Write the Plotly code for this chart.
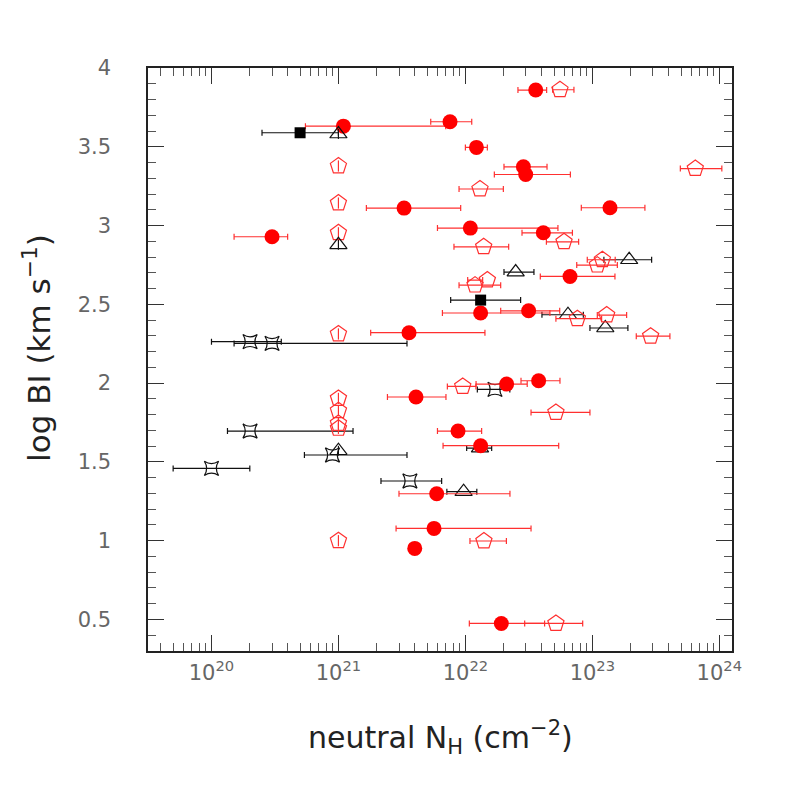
import plotly.graph_objects as go

# ---------------- data (log10 N_H, error-bar ends in log10, log BI) ----------------
# red filled circles
circ_nh = [22.554, 21.879, 21.039, 22.087, 22.457, 22.475, 21.517, 23.139, 20.477, 22.039,
           22.614, 22.824, 22.498, 22.120, 21.556, 22.325, 22.577, 21.611, 21.942, 22.120,
           21.774, 21.753, 21.601, 22.283]
circ_lo = [22.414, 21.727, 20.740, 22.000, 22.304, 22.228, 21.220, 22.913, 20.178, 21.780,
           22.446, 22.590, 22.278, 21.819, 21.254, 22.084, 22.438, 21.386, 21.780, 21.824,
           21.477, 21.454, 21.601, 22.031]
circ_hi = [22.640, 22.050, 21.845, 22.173, 22.643, 22.827, 21.963, 23.414, 20.600, 22.729,
           22.843, 23.178, 22.743, 22.666, 22.154, 22.487, 22.745, 21.847, 22.128, 22.735,
           22.351, 22.517, 21.601, 22.624]
circ_bi = [3.860, 3.659, 3.631, 3.496, 3.373, 3.324, 3.111, 3.113, 2.929, 2.984,
           2.954, 2.677, 2.459, 2.445, 2.320, 1.994, 2.015, 1.912, 1.696, 1.603,
           1.298, 1.078, 0.951, 0.475]

# red open pentagons with error bars
pent_nh = [22.745, 22.115, 23.811, 22.144, 22.777, 23.079, 23.039, 22.173, 22.076, 22.882,
           23.113, 23.459, 21.979, 22.713, 22.146, 22.713]
pent_lo = [22.687, 21.950, 23.693, 21.910, 22.638, 22.960, 22.877, 22.018, 21.950, 22.713,
           23.039, 23.346, 21.858, 22.517, 22.036, 22.467]
pent_hi = [22.855, 22.299, 24.020, 22.341, 22.892, 23.180, 23.197, 22.136, 22.278, 23.073,
           23.270, 23.611, 22.083, 22.981, 22.323, 22.924]
pent_bi = [3.862, 3.232, 3.362, 2.865, 2.897, 2.783, 2.749, 2.654, 2.622, 2.409,
           2.432, 2.298, 1.979, 1.814, 0.998, 0.475]

# red open pentagons at N_H = 1e21 (limits)
plim_nh = [21.0, 21.0, 21.0, 21.0, 21.0, 21.0, 21.0, 21.0, 21.0]
plim_bi = [3.378, 3.143, 2.954, 2.312, 1.903, 1.825, 1.744, 1.713, 1.0]

# black open triangles with error bars
tri_nh = [22.396, 23.290, 22.808, 23.102, 22.115, 21.986]
tri_lo = [22.304, 23.091, 22.603, 22.981, 22.010, 21.854]
tri_hi = [22.540, 23.467, 22.929, 23.280, 22.207, 22.090]
tri_bi = [2.705, 2.783, 2.434, 2.350, 1.588, 1.311]

# black open triangles at N_H = 1e21 (limits)
tlim_nh = [21.0, 21.0, 21.0]
tlim_bi = [3.581, 2.878, 1.571]

# black filled squares
sq_nh = [20.698, 22.120]
sq_lo = [20.398, 21.884]
sq_hi = [21.000, 22.435]
sq_bi = [3.589, 2.527]

# black four-point stars
st_nh = [20.304, 20.477, 20.304, 20.953, 20.000, 21.563, 22.233]
st_lo = [20.000, 20.178, 20.126, 20.732, 19.698, 21.335, 22.094]
st_hi = [20.550, 21.540, 21.115, 21.540, 20.302, 21.813, 22.350]
st_bi = [2.263, 2.252, 1.696, 1.544, 1.459, 1.379, 1.960]

x_tick_vals = [20, 21, 22, 23, 24]
x_tick_text = ["10<sup>20</sup>", "10<sup>21</sup>", "10<sup>22</sup>", "10<sup>23</sup>", "10<sup>24</sup>"]
y_tick_vals = [0.5, 1.0, 1.5, 2.0, 2.5, 3.0, 3.5, 4.0]
y_tick_text = ["0.5", "1", "1.5", "2", "2.5", "3", "3.5", "4"]

RED = "#ff0000"
RED_ERR = "#ff3030"
BLACK = "#111111"


def lin(vals):
    return [10.0 ** v for v in vals]


def err(x, lo, hi, color):
    X = lin(x)
    return dict(type="data", symmetric=False,
                array=[10.0 ** h - xv for h, xv in zip(hi, X)],
                arrayminus=[xv - 10.0 ** l for l, xv in zip(lo, X)],
                color=color, thickness=1.2, width=3)


fig = go.Figure()

# error-bar series
fig.add_trace(go.Scatter(x=lin(st_nh), y=st_bi, mode="markers",
                         error_x=err(st_nh, st_lo, st_hi, BLACK),
                         marker=dict(symbol="star-square-open", size=13, color=BLACK,
                                     line=dict(color=BLACK, width=1.2))))
fig.add_trace(go.Scatter(x=lin(tri_nh), y=tri_bi, mode="markers",
                         error_x=err(tri_nh, tri_lo, tri_hi, BLACK),
                         marker=dict(symbol="triangle-up-open", size=15, color=BLACK,
                                     line=dict(color=BLACK, width=1.2))))
fig.add_trace(go.Scatter(x=lin(pent_nh), y=pent_bi, mode="markers",
                         error_x=err(pent_nh, pent_lo, pent_hi, RED_ERR),
                         marker=dict(symbol="pentagon-open", size=17, color=RED_ERR,
                                     line=dict(color=RED_ERR, width=1.2))))
fig.add_trace(go.Scatter(x=lin(circ_nh), y=circ_bi, mode="markers",
                         error_x=err(circ_nh, circ_lo, circ_hi, RED_ERR),
                         marker=dict(symbol="circle", size=15, color=RED,
                                     line=dict(width=0))))
fig.add_trace(go.Scatter(x=lin(sq_nh), y=sq_bi, mode="markers",
                         error_x=err(sq_nh, sq_lo, sq_hi, BLACK),
                         marker=dict(symbol="square", size=11, color="#000000",
                                     line=dict(width=0))))

# limits at 1e21 (marker with an inner vertical stroke)
fig.add_trace(go.Scatter(x=lin(plim_nh), y=plim_bi, mode="markers",
                         marker=dict(symbol="pentagon-open", size=17, color=RED_ERR,
                                     line=dict(color=RED_ERR, width=1.2))))
fig.add_trace(go.Scatter(x=lin(plim_nh), y=plim_bi, mode="markers",
                         marker=dict(symbol="line-ns-open", size=8, color=RED_ERR,
                                     line=dict(color=RED_ERR, width=1.2))))
fig.add_trace(go.Scatter(x=lin(tlim_nh), y=tlim_bi, mode="markers",
                         marker=dict(symbol="triangle-up-open", size=15, color=BLACK,
                                     line=dict(color=BLACK, width=1.2))))
fig.add_trace(go.Scatter(x=lin(tlim_nh), y=tlim_bi, mode="markers",
                         marker=dict(symbol="line-ns-open", size=7, color=BLACK,
                                     line=dict(color=BLACK, width=1.2))))

FONT = "DejaVu Sans"
axis_common = dict(showgrid=False, zeroline=False, showline=True, linecolor="#222222",
                   linewidth=1.5, mirror="allticks", ticks="inside", ticklen=16,
                   tickwidth=1.2, tickcolor="#333333",
                   tickfont=dict(family=FONT, size=21, color="#666666"))

fig.update_xaxes(type="log", range=[19.5, 24.1],
                 tickvals=[10.0 ** v for v in x_tick_vals], ticktext=x_tick_text,
                 minor=dict(ticks="inside", ticklen=8, tickwidth=1.2, tickcolor="#555555",
                            dtick="D1", showgrid=False),
                 ticklabelstandoff=2, **axis_common)
fig.update_yaxes(range=[0.3, 4.0], tickvals=y_tick_vals, ticktext=y_tick_text,
                 minor=dict(ticks="inside", ticklen=8, tickwidth=1.2, tickcolor="#555555",
                            dtick=0.1, tick0=0, showgrid=False),
                 ticklabelstandoff=31, **axis_common)

fig.update_layout(
    width=797, height=797,
    margin=dict(l=140, r=73, t=60, b=154),
    plot_bgcolor="white", paper_bgcolor="white",
    showlegend=False,
    font=dict(family=FONT, color="#222222"),
    annotations=[
        dict(text="neutral N<sub>H</sub> (cm<sup>\u22122</sup>)", xref="paper", yref="paper",
             x=0.5, y=-0.148, xanchor="center", yanchor="middle", showarrow=False,
             font=dict(family=FONT, size=30, color="#222222")),
        dict(text="log BI (km s<sup>\u22121</sup>)", xref="paper", yref="paper",
             x=-0.19, y=0.52, xanchor="center", yanchor="middle", showarrow=False,
             textangle=-90, font=dict(family=FONT, size=31, color="#222222")),
    ],
)

fig.write_html("out.html")
